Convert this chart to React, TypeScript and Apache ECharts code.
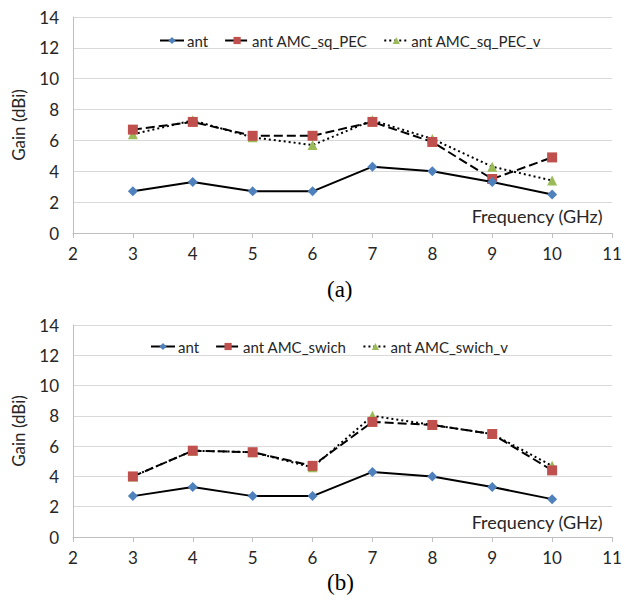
import React, { useEffect, useRef } from "react";
import * as echarts from "echarts";

const freq = [3, 4, 5, 6, 7, 8, 9, 10];
const yTicks = [0, 2, 4, 6, 8, 10, 12, 14];
const xTicks = [2, 3, 4, 5, 6, 7, 8, 9, 10, 11];

const antGain = [2.7, 3.3, 2.7, 2.7, 4.3, 4.0, 3.3, 2.5];
const sqPec = [6.7, 7.2, 6.3, 6.3, 7.2, 5.9, 3.5, 4.9];
const sqPecV = [6.4, 7.3, 6.2, 5.7, 7.3, 6.1, 4.3, 3.4];
const swich = [4.0, 5.7, 5.6, 4.7, 7.6, 7.4, 6.8, 4.4];
const swichV = [4.0, 5.7, 5.6, 4.6, 8.0, 7.4, 6.8, 4.7];

const namesA = ["ant", "ant AMC_sq_PEC", "ant AMC_sq_PEC_v"];
const namesB = ["ant", "ant AMC_swich", "ant AMC_swich_v"];
const panelLabels = ["(a)", "(b)"];

const FONT = "Lato";
const TXT = "#262626";

const pair = (vals: number[]) => freq.map((f, i) => [f, vals[i]]);

export default function App() {
  const ref = useRef<HTMLDivElement>(null);
  useEffect(() => {
    if (!ref.current) return;
    const chart = echarts.init(ref.current, null, { renderer: "svg" });
    const grids = [
      { left: 73, right: 13, top: 17, height: 216 },
      { left: 73, right: 13, top: 325, height: 212 },
    ];
    const xAxis = grids.map((_, i) => ({
      type: "value",
      gridIndex: i,
      min: xTicks[0],
      max: xTicks[xTicks.length - 1],
      interval: 1,
      axisLine: { show: true, lineStyle: { color: "#bfbfbf", width: 1 } },
      axisTick: { show: true, length: 5, lineStyle: { color: "#bfbfbf" } },
      splitLine: { show: false },
      axisLabel: { color: TXT, fontFamily: FONT, fontSize: 17, margin: 12 },
    }));
    const yAxis = grids.map((_, i) => ({
      type: "value",
      gridIndex: i,
      min: yTicks[0],
      max: yTicks[yTicks.length - 1],
      interval: 2,
      name: "Gain (dBi)",
      nameLocation: "middle",
      nameGap: 46,
      nameRotate: 90,
      nameTextStyle: { color: TXT, fontFamily: FONT, fontSize: 17 },
      axisLine: { show: true, lineStyle: { color: "#bfbfbf", width: 1 } },
      axisTick: { show: false },
      splitLine: { show: true, lineStyle: { color: "#d9d9d9", width: 1 } },
      axisLabel: { color: TXT, fontFamily: FONT, fontSize: 17, margin: 14 },
    }));
    const mk = (name: string, vals: number[], idx: number, kind: number) => {
      const marker = [
        { symbol: "diamond", color: "#4F81BD", size: 10 },
        { symbol: "rect", color: "#C0504D", size: 10 },
        { symbol: "triangle", color: "#9BBB59", size: 10 },
      ][kind];
      const dash = ["solid", [9, 4], [2, 3]][kind];
      return {
        type: "line",
        name,
        xAxisIndex: idx,
        yAxisIndex: idx,
        data: pair(vals),
        symbol: marker.symbol,
        symbolSize: marker.size,
        itemStyle: { color: marker.color, borderWidth: 0 },
        lineStyle: { color: "#000", width: 2, type: dash },
        z: 5 - kind,
      };
    };
    const series = [
      mk(namesA[0], antGain, 0, 0),
      mk(namesA[1], sqPec, 0, 1),
      mk(namesA[2], sqPecV, 0, 2),
      mk(namesB[0] + " ", antGain, 1, 0),
      mk(namesB[1], swich, 1, 1),
      mk(namesB[2], swichV, 1, 2),
    ];
    const legendBase = {
      orient: "horizontal",
      itemWidth: 24,
      itemHeight: 9,
      itemGap: 16,
      textStyle: { color: TXT, fontFamily: FONT, fontSize: 15, padding: [0, 0, 0, -2] },
      formatter: (n: string) => n.trim(),
    };
    chart.setOption({
      animation: false,
      backgroundColor: "#fff",
      grid: grids,
      xAxis,
      yAxis,
      series,
      legend: [
        { ...legendBase, data: namesA, left: 154, top: 28 },
        { ...legendBase, data: namesB.map((n, i) => (i === 0 ? n + " " : n)), left: 145, top: 334 },
      ],
      graphic: [
        { type: "text", right: 22, top: 207, style: { text: "Frequency (GHz)", fill: TXT, font: `18px ${FONT}` } },
        { type: "text", right: 22, top: 513, style: { text: "Frequency (GHz)", fill: TXT, font: `18px ${FONT}` } },
        { type: "text", left: 327, top: 278, style: { text: panelLabels[0], fill: "#000", font: `23px "Liberation Serif"` } },
        { type: "text", left: 327, top: 571, style: { text: panelLabels[1], fill: "#000", font: `23px "Liberation Serif"` } },
      ],
    });
    return () => chart.dispose();
  }, []);
  return (
    <div
      ref={ref}
      style={{ position: "absolute", left: 0, top: 0, width: 625, height: 607 }}
    />
  );
}
